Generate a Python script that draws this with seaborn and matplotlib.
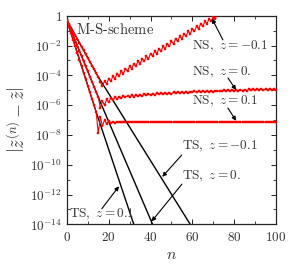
#!/usr/bin/env python3
"""Convergence of the M-S-scheme: |z~(n) - z~| vs n for NS (red) and TS (black)."""
import pandas as pd
import matplotlib
matplotlib.use("Agg")
import matplotlib.pyplot as plt
import seaborn as sns

# --- data (log10 of the error) ---
ts_n_m01 = [0, 15, 59]
ts_log_m01 = [-0.30, -4.10, -14.0]
ts_n_0 = [0, 16, 41]
ts_log_0 = [-0.30, -5.80, -14.0]
ts_n_p01 = [0, 14, 32]
ts_log_p01 = [-0.30, -6.46, -14.0]

ns_log_m01 = [
    -0.30, -0.55, -0.81, -1.06, -1.31, -1.57, -1.82, -2.07, -2.33, -2.58,
    -2.83, -3.09, -3.34, -3.59, -3.85, -4.10, -4.45, -4.73, -4.39, -4.56,
    -4.22, -4.40, -4.05, -4.23, -3.88, -4.06, -3.72, -3.89, -3.55, -3.72,
    -3.38, -3.56, -3.21, -3.39, -3.05, -3.22, -2.88, -3.06, -2.71, -2.89,
    -2.54, -2.72, -2.38, -2.55, -2.21, -2.39, -2.04, -2.22, -1.87, -2.05,
    -1.71, -1.88, -1.54, -1.72, -1.37, -1.55, -1.21, -1.38, -1.04, -1.21,
    -0.87, -1.05, -0.70, -0.88, -0.54, -0.71, -0.37, -0.54, -0.20, -0.38,
    -0.03, -0.21, 0.14,
]
ns_log_0 = [
    -0.30, -0.64, -0.99, -1.33, -1.68, -2.02, -2.36, -2.71, -3.05, -3.40,
    -3.74, -4.08, -4.43, -4.77, -5.12, -5.46, -6.20, -5.75, -6.00, -5.62,
    -5.80, -5.53, -5.66, -5.47, -5.57, -5.43, -5.51, -5.40, -5.47, -5.37,
    -5.44, -5.35, -5.42, -5.32, -5.39, -5.30, -5.37, -5.28, -5.34, -5.25,
    -5.32, -5.23, -5.30, -5.21, -5.28, -5.20, -5.27, -5.18, -5.25, -5.16,
    -5.23, -5.15, -5.21, -5.14, -5.19, -5.13, -5.18, -5.11, -5.16, -5.10,
    -5.15, -5.08, -5.14, -5.07, -5.13, -5.06, -5.11, -5.05, -5.10, -5.04,
    -5.09, -5.03, -5.08, -5.02, -5.07, -5.01, -5.06, -5.00, -5.05, -4.99,
    -5.04, -4.98, -5.03, -4.97, -5.02, -4.96, -5.02, -4.95, -5.01, -4.94,
    -5.00, -4.94, -4.99, -4.93, -4.98, -4.92, -4.98, -4.91, -4.97, -4.90,
    -4.96,
]
ns_log_p01 = [
    -0.30, -0.74, -1.18, -1.62, -2.06, -2.50, -2.94, -3.38, -3.82, -4.26,
    -4.70, -5.14, -5.58, -6.02, -6.46, -7.90, -6.80, -7.40, -7.00, -7.25,
    -7.08, -7.20, -7.11, -7.17, -7.13, -7.16,
    -7.14, -7.16, -7.14, -7.16, -7.14, -7.16, -7.14, -7.16, -7.14, -7.16,
    -7.14, -7.16, -7.14, -7.16, -7.14, -7.16, -7.14, -7.16, -7.14, -7.16,
    -7.14, -7.16, -7.14, -7.16, -7.14, -7.16, -7.14, -7.16, -7.14, -7.16,
    -7.14, -7.16, -7.14, -7.16, -7.14, -7.16, -7.14, -7.16, -7.14, -7.16,
    -7.14, -7.16, -7.14, -7.16, -7.14, -7.16, -7.14, -7.16, -7.14, -7.16,
    -7.14, -7.16, -7.14, -7.16, -7.14, -7.16, -7.14, -7.16, -7.14, -7.16,
    -7.14, -7.16, -7.14, -7.16, -7.14, -7.16, -7.14, -7.16, -7.14, -7.16,
    -7.14, -7.16, -7.14, -7.16, -7.14,
]

x_ticks = [0, 20, 40, 60, 80, 100]
y_exps = [0, -2, -4, -6, -8, -10, -12, -14]


def frame(n, logs):
    return pd.DataFrame({"n": n, "err": [10.0 ** v for v in logs]})


sns.set_style("ticks")
plt.rcParams.update({
    "mathtext.fontset": "cm",
    "font.family": "serif",
    "font.serif": ["DejaVu Serif"],
    "xtick.direction": "in",
    "ytick.direction": "in",
    "xtick.top": True,
    "ytick.right": True,
    "axes.linewidth": 0.9,
})

fig = plt.figure(figsize=(3.0, 2.71), dpi=100)
ax = fig.add_axes([0.223, 0.172, 0.697, 0.770])

# TS: black straight lines
for n, logs in [(ts_n_m01, ts_log_m01), (ts_n_0, ts_log_0), (ts_n_p01, ts_log_p01)]:
    sns.lineplot(data=frame(n, logs), x="n", y="err", color="black", linewidth=1.0,
                 sort=False, ax=ax, zorder=2)

# NS: red with small square markers
for logs in [ns_log_m01, ns_log_0, ns_log_p01]:
    sns.lineplot(data=frame(list(range(len(logs))), logs), x="n", y="err", color="red",
                 linewidth=0.8, marker="s", markersize=1.8, markeredgewidth=0.3,
                 markeredgecolor="red", sort=False, ax=ax, zorder=3)

ax.set_yscale("log")
ax.set_xlim(0, 100)
ax.set_ylim(1e-14, 1)
ax.set_xticks(x_ticks, labels=[f"${v}$" for v in x_ticks])
ax.set_xticks([10, 30, 50, 70, 90], minor=True)
ax.set_yticks([10.0 ** e for e in y_exps],
              labels=["$1$" if e == 0 else f"$10^{{{e}}}$" for e in y_exps])
ax.set_yticks([10.0 ** e for e in range(-13, 0, 2)], minor=True)
ax.yaxis.set_minor_formatter(matplotlib.ticker.NullFormatter())
ax.tick_params(which="major", length=3.5, width=0.6, labelsize=9.5, colors="black")
ax.tick_params(which="minor", length=2, width=0.6)
ax.tick_params(axis="x", pad=5)
for lab in ax.get_xticklabels() + ax.get_yticklabels():
    lab.set_color("#333333")

ax.set_xlabel("$n$", fontsize=11.5, labelpad=1, color="#333333")
ax.set_ylabel(r"$\left|\tilde{z}^{(n)}-\tilde{z}\right|$", fontsize=13, labelpad=1,
              color="#333333")

ax.text(4.3, 10 ** -0.94, r"$\mathrm{M\text{-}S\text{-}scheme}$", fontsize=10.5,
        ha="left", va="center", color="#333333")

labels = [
    (r"$\mathrm{NS},\ z=-0.1$", (59.8, -2.07), (74.6, -1.62), (69.4, -0.20)),
    (r"$\mathrm{NS},\ z=0.$", (59.8, -3.77), (77.0, -4.17), (80.9, -4.98)),
    (r"$\mathrm{NS},\ z=0.1$", (59.8, -5.77), (77.0, -6.19), (80.9, -7.05)),
    (r"$\mathrm{TS},\ z=-0.1$", (55.0, -8.75), (54.9, -9.35), (45.6, -10.81)),
    (r"$\mathrm{TS},\ z=0.$", (55.0, -10.75), (55.0, -11.30), (40.5, -13.80)),
    (r"$\mathrm{TS},\ z=0.1$", (1.0, -13.32), (16.7, -12.95), (24.9, -11.44)),
]
for txt, (tx, ty), (ax0, ay0), (ax1, ay1) in labels:
    ax.text(tx, 10 ** ty, txt, fontsize=9.5, ha="left", va="center", color="#333333")
    ax.annotate("", xy=(ax1, 10 ** ay1), xytext=(ax0, 10 ** ay0),
                arrowprops=dict(arrowstyle="-|>", color="black", lw=0.8,
                                mutation_scale=6, shrinkA=0, shrinkB=0))

fig.savefig("out.png", dpi=100)
